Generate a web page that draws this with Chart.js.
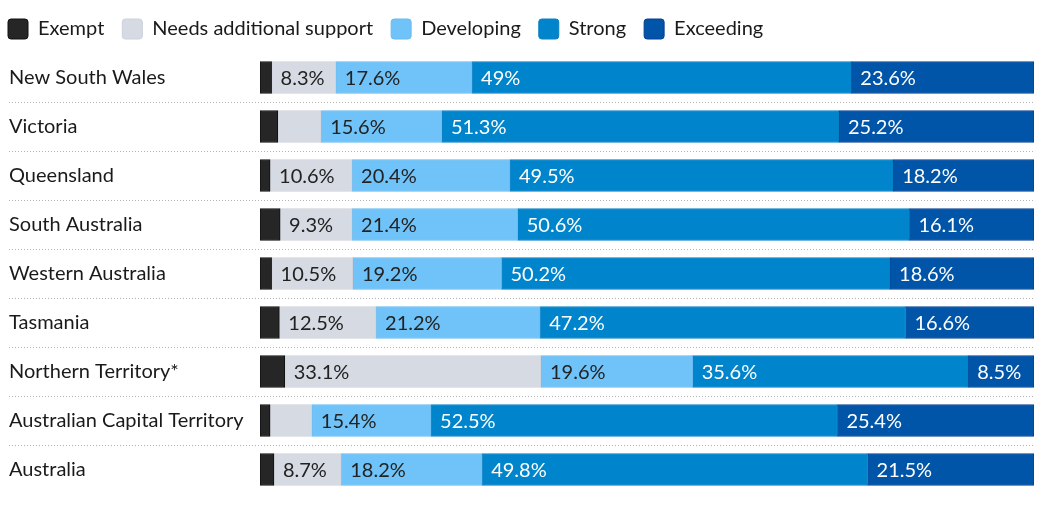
<!DOCTYPE html>
<html>
<head>
<meta charset="utf-8">
<script src="https://cdn.jsdelivr.net/npm/chart.js@4"></script>
<style>
  body { margin: 0; background: #fff; }
  #wrap { width: 1057px; height: 509px; }
</style>
</head>
<body>
<div id="wrap"><canvas id="grafico"></canvas></div>
<script>
const estados = ['New South Wales', 'Victoria', 'Queensland', 'South Australia', 'Western Australia',
  'Tasmania', 'Northern Territory*', 'Australian Capital Territory', 'Australia'];

const exempt     = [1.5, 2.3, 1.3, 2.6, 1.5, 2.5, 3.2, 1.3, 1.8];
const needs      = [8.3, 5.6, 10.6, 9.3, 10.5, 12.5, 33.1, 5.4, 8.7];
const developing = [17.6, 15.6, 20.4, 21.4, 19.2, 21.2, 19.6, 15.4, 18.2];
const strong     = [49, 51.3, 49.5, 50.6, 50.2, 47.2, 35.6, 52.5, 49.8];
const exceeding  = [23.6, 25.2, 18.2, 16.1, 18.6, 16.6, 8.5, 25.4, 21.5];

const fonte = 'Lato, "Open Sans", sans-serif';

const series = [
  { label: 'Exempt', data: exempt, backgroundColor: '#262626', borderColor: '#111111', texto: null },
  { label: 'Needs additional support', data: needs, backgroundColor: '#d6dae3', borderColor: '#cdd1da', texto: '#222' },
  { label: 'Developing', data: developing, backgroundColor: '#70c3f8', borderColor: '#68bbf0', texto: '#222' },
  { label: 'Strong', data: strong, backgroundColor: '#0085cc', borderColor: '#0a80c4', texto: '#fff' },
  { label: 'Exceeding', data: exceeding, backgroundColor: '#0055a8', borderColor: '#063f92', texto: '#fff' }
];

// linhas pontilhadas entre as categorias
const separadores = {
  id: 'separadores',
  beforeDatasetsDraw(chart) {
    const ctx = chart.ctx;
    const y = chart.scales.y;
    ctx.save();
    ctx.strokeStyle = '#b5b5b5';
    ctx.lineWidth = 1;
    ctx.setLineDash([1, 2]);
    for (let i = 0; i < estados.length - 1; i++) {
      const py = Math.round((y.getPixelForValue(i) + y.getPixelForValue(i + 1)) / 2) + 0.5;
      ctx.beginPath();
      ctx.moveTo(9, py);
      ctx.lineTo(chart.chartArea.right, py);
      ctx.stroke();
    }
    ctx.restore();
  }
};

// rótulos de porcentagem dentro das barras
const rotulos = {
  id: 'rotulos',
  afterDatasetsDraw(chart) {
    const ctx = chart.ctx;
    ctx.save();
    ctx.font = '20px ' + fonte;
    ctx.textBaseline = 'middle';
    ctx.textAlign = 'left';
    chart.data.datasets.forEach((ds, di) => {
      if (!series[di].texto) return;
      const meta = chart.getDatasetMeta(di);
      meta.data.forEach((bar, i) => {
        const txt = ds.data[i] + '%';
        const largura = Math.abs(bar.x - bar.base);
        if (largura < ctx.measureText(txt).width + 14) return;
        ctx.fillStyle = series[di].texto;
        ctx.fillText(txt, Math.min(bar.x, bar.base) + 9, bar.y + 1);
      });
    });
    ctx.restore();
  }
};

// encosta a legenda no canto superior esquerdo
const posLegenda = {
  id: 'posLegenda',
  afterLayout(chart) {
    chart.legend.left -= 19;
    chart.legend.top -= 4;
  }
};

new Chart(document.getElementById('grafico'), {
  type: 'bar',
  data: {
    labels: estados,
    datasets: series.map(s => ({
      label: s.label,
      data: s.data,
      backgroundColor: s.backgroundColor,
      borderColor: s.borderColor,
      borderWidth: 1,
      borderSkipped: false,
      barThickness: 32
    }))
  },
  options: {
    indexAxis: 'y',
    responsive: true,
    maintainAspectRatio: false,
    animation: false,
    layout: { padding: { left: 9, right: 23, top: 5, bottom: 15 } },
    scales: {
      x: { stacked: true, min: 0, max: 100, display: false },
      y: {
        stacked: true,
        grid: { display: false },
        border: { display: false },
        ticks: { crossAlign: 'far', color: '#1a1a1a', font: { family: fonte, size: 20 }, padding: 0 },
        afterFit(scale) { scale.width = 251; }
      }
    },
    plugins: {
      legend: {
        position: 'top',
        align: 'start',
        labels: {
          boxWidth: 20,
          boxHeight: 20,
          padding: 18,
          useBorderRadius: true,
          borderRadius: 3,
          color: '#1a1a1a',
          font: { family: fonte, size: 20 }
        }
      },
      tooltip: { enabled: false }
    }
  },
  plugins: [separadores, rotulos, posLegenda]
});
</script>
</body>
</html>
